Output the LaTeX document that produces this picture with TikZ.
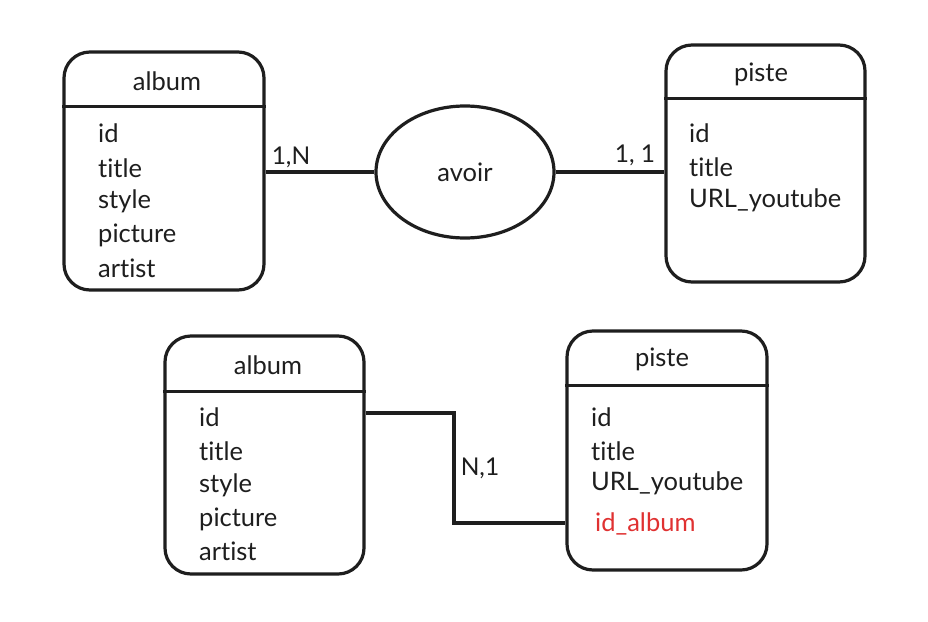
\documentclass[tikz,border=0pt]{standalone}
\usepackage{fontspec}
\setmainfont{Lato}[Ligatures=NoCommon]
\usetikzlibrary{shapes.geometric}
\definecolor{ink}{HTML}{1E1E1E}
\definecolor{exred}{HTML}{E03131}
\begin{document}
\begin{tikzpicture}[x=1pt,y=-1pt,
  entity/.style={draw=ink, line width=3.2pt, rounded corners=26pt, inner sep=0pt},
  rel/.style={draw=ink, line width=3.2pt, ellipse, inner sep=0pt, minimum width=178pt, minimum height=132pt},
  conn/.style={draw=ink, line width=3.2pt},
  sep/.style={draw=ink, line width=3.6pt},
  title/.style={text=ink, font=\fontsize{25.5}{30}\selectfont, inner sep=0pt},
  attr/.style={text=ink, font=\fontsize{25.5}{30}\selectfont, anchor=west, inner sep=0pt},
  card/.style={text=ink, font=\fontsize{24.5}{29}\selectfont, inner sep=0pt}]
\useasboundingbox (0,0) rectangle (928,621);
\fill[white] (0,0) rectangle (928,621);

% top album
\node[entity, minimum width=200pt, minimum height=238pt] (a1) at (164,171) {};
\draw[sep] ([yshift=-56pt]a1.north west) -- ([yshift=-56pt]a1.north east);
\node[title] (a1t) at (167,81) {album};
\node[attr] (a1id) at (98,133) {id};
\node[attr] (a1ti) at (98,168) {title};
\node[attr] (a1st) at (98,201) {style};
\node[attr] (a1pi) at (98,235) {picture};
\node[attr] (a1ar) at (98,268) {artist};

% relation
\node[rel] (av) at (465,172) {};
\node[title] (avt) at (465,172) {avoir};

% top piste
\node[entity, minimum width=199pt, minimum height=237pt] (p1) at (765.5,163.5) {};
\draw[sep] ([yshift=-55pt]p1.north west) -- ([yshift=-55pt]p1.north east);
\node[title] (p1t) at (761,74) {piste};
\node[attr] (p1id) at (689,133) {id};
\node[attr] (p1ti) at (689,167) {title};
\node[attr] (p1ur) at (689,200) {URL\_youtube};

\draw[conn] (a1.east |- av.west) -- (av.west);
\draw[conn] (av.east) -- (p1.west |- av.east);
\node[card] (c1n) at (291,157) {1,N};
\node[card] (c11) at (635,155) {1, 1};

% bottom album
\node[entity, minimum width=199pt, minimum height=238pt] (a2) at (264.5,455) {};
\draw[sep] ([yshift=-57pt]a2.north west) -- ([yshift=-57pt]a2.north east);
\node[title] (a2t) at (268,365) {album};
\node[attr] (a2id) at (199,417) {id};
\node[attr] (a2ti) at (199,451) {title};
\node[attr] (a2st) at (199,485) {style};
\node[attr] (a2pi) at (199,519) {picture};
\node[attr] (a2ar) at (199,551) {artist};

% bottom piste
\node[entity, minimum width=200pt, minimum height=239pt] (p2) at (667,450.5) {};
\draw[sep] ([yshift=-56pt]p2.north west) -- ([yshift=-56pt]p2.north east);
\node[title] (p2t) at (662,359) {piste};
\node[attr] (p2id) at (591,417) {id};
\node[attr] (p2ti) at (591,451) {title};
\node[attr] (p2ur) at (591,483) {URL\_youtube};
\node[attr, text=exred] (p2ia) at (595,524) {id\_album};

\coordinate (bend) at (454,413);
\coordinate (low) at (454,523);
\draw[conn] (a2.east |- bend) -- (bend) -- (low) -- (p2.west |- low);
\node[card] (cn1) at (480,468) {N,1};
\end{tikzpicture}
\end{document}
